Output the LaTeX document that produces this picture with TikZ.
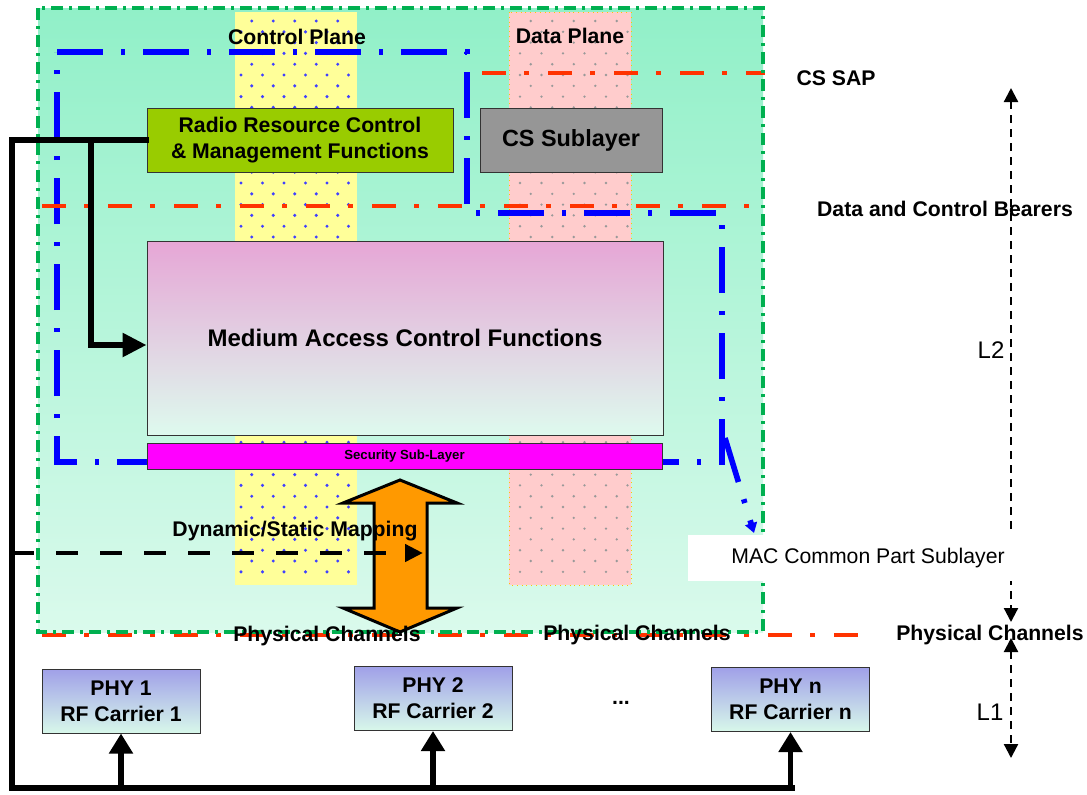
\documentclass[tikz,border=0pt]{standalone}
\usepackage{fontspec}
\setmainfont{Liberation Sans}
\usetikzlibrary{arrows.meta}
\newcommand{\lblfont}{\fontsize{10.6}{13}\selectfont\bfseries}
\newcommand{\plainfont}{\fontsize{10.6}{13}\selectfont}

\begin{document}
\begin{tikzpicture}[x=0.5pt, y=-0.5pt, line join=miter,
  lbl/.style={font=\lblfont, inner sep=0pt},
  box/.style={draw=black!80, line width=0.5pt, align=center, font=\lblfont, inner sep=0pt},
  phybox/.style={box, top color=phyTop, bottom color=phyBot, minimum width=79pt, minimum height=32pt},
  greendd/.style={draw=lineGreen, line width=1.6pt, dash pattern=on 6pt off 3pt on 1.5pt off 3pt},
  bluedd/.style={draw=lineBlue, line width=2.8pt, dash pattern=on 23pt off 9pt on 2pt off 9pt},
  reddd/.style={draw=lineRed, line width=2.4pt, dash pattern=on 12pt off 9pt on 2.5pt off 9.5pt},
  ctrlline/.style={line width=2.8pt, line cap=rect},
  layerarr/.style={line width=1.1pt, dash pattern=on 4pt off 3pt, {Triangle[length=7pt,width=7pt]}-{Triangle[length=7pt,width=7pt]}}]

  \useasboundingbox (0,0) rectangle (1087,794);

  % Colors
  \definecolor{areaTop}{RGB}{145,240,200}
  \definecolor{areaBot}{RGB}{218,250,236}
  \definecolor{ctrlYellow}{RGB}{255,255,153}
  \definecolor{dataPink}{RGB}{255,204,204}
  \definecolor{rrcGreen}{RGB}{153,204,0}
  \definecolor{csGrey}{RGB}{150,150,150}
  \definecolor{macTop}{RGB}{230,166,214}
  \definecolor{macMid}{RGB}{205,218,212}
  \definecolor{macBot}{RGB}{222,250,238}
  \definecolor{secMagenta}{RGB}{255,0,255}
  \definecolor{phyTop}{RGB}{160,160,232}
  \definecolor{phyBot}{RGB}{216,248,234}
  \definecolor{arrOrange}{RGB}{255,153,0}
  \definecolor{lineBlue}{RGB}{0,0,255}
  \definecolor{lineRed}{RGB}{255,51,0}
  \definecolor{lineGreen}{RGB}{0,176,80}
  \colorlet{dotBlue}{lineBlue!75}
  \colorlet{dotGrey}{black!40}

  % L2 area
  \shade[top color=areaTop, bottom color=areaBot] (38,8) rectangle (763,632);

  % Control and data plane columns (dotted)
  \fill[ctrlYellow] (235,12) rectangle (357,585);
  \fill[dataPink] (509,12) rectangle (631,585);
  \draw[yellow!60!orange, dotted, line width=0.4pt] (509,12) rectangle (631,585);
  \foreach \r in {0,...,51} {
    \pgfmathtruncatemacro\odd{1-mod(\r,2)}
    \pgfmathtruncatemacro\nd{5-\odd}
    \foreach \c in {0,...,\nd} {
      \fill[dotBlue] ({241+10.75*\odd+21.5*\c},{21+10.8*\r}) circle (0.85pt);
      \fill[dotGrey] ({520+10.75*\odd+21.5*\c},{21+10.8*\r}) circle (0.65pt);
    }
  }
  \node[lbl] (cplane) at (297,37) {Control Plane};
  \node[lbl] (dplane) at (570,36) {Data Plane};

  % Blue boundary of the MAC sublayers
  \draw[bluedd] (57,52) -- (467,52) -- (467,213) -- (722,213) -- (722,462) -- (57,462) -- cycle;
  \coordinate (mcpsFrom) at (725,438);
  \coordinate (mcpsTo)   at (754,533);
  \draw[bluedd, -{Triangle[length=5pt,width=6pt]}] (mcpsFrom) -- (mcpsTo);

  % SAP lines
  \draw[reddd] (482,73) -- (765,73);
  \draw[reddd] (42,206) -- (750,206);
  \draw[reddd] (42,635) -- (860,635);

  % Green border
  \draw[greendd] (38,8) rectangle (763,632);

  % Functional blocks
  \node[box, fill=rrcGreen, minimum width=153pt, minimum height=32pt] (rrc) at (300,140)
    {Radio Resource Control\\\& Management Functions};
  \node[box, fill=csGrey, minimum width=91pt, minimum height=32pt,
    font=\fontsize{11.7}{14}\selectfont\bfseries] (cs) at (571,140) {CS Sublayer};
  \node[box, top color=macTop, middle color=macMid, bottom color=macBot, minimum width=258pt, minimum height=97pt,
    font=\fontsize{12}{14}\selectfont\bfseries] (mac) at (405,338) {Medium Access Control Functions};
  \node[box, fill=secMagenta, minimum width=257.5pt, minimum height=13pt,
    font=\fontsize{6.6}{8}\selectfont\bfseries] (sec) at (404.5,456) {Security Sub-Layer};

  % Mapping arrow
  \draw[fill=arrOrange, line width=1.5pt] (400,480) -- (457,503) -- (427,503) -- (427,608) -- (457,608)
    -- (400,632) -- (343,608) -- (374,608) -- (374,503) -- (343,503) -- cycle;
  \coordinate (mapFrom) at (12,553);
  \coordinate (mapTo)   at (423,553);
  \draw[line width=2.2pt, dash pattern=on 11pt off 11pt, -{Triangle[length=9pt,width=8.5pt]}] (mapFrom) -- (mapTo);
  \node[lbl] (dsm) at (295,531) {Dynamic/Static Mapping};

  % Channel labels
  \node[lbl] (pch1) at (327,636) {Physical Channels};
  \node[lbl] (pch2) at (637,635) {Physical Channels};
  \node[lbl] (pch3) at (990,635) {Physical Channels};
  \node[lbl] (cssap) at (836,78) {CS SAP};
  \node[lbl] (bearers) at (945,209) {Data and Control Bearers};

  % PHY blocks
  \node[phybox] (phy1) at (121,701) {PHY 1\\RF Carrier 1};
  \node[phybox] (phy2) at (433,698.5) {PHY 2\\RF Carrier 2};
  \node[phybox] (phyn) at (790.5,699.5) {PHY n\\RF Carrier n};
  \node[lbl] (more) at (621,703) {...};

  % Control path
  \coordinate (busL) at (12,788);
  \coordinate (busR) at (792,788);
  \coordinate (tap)  at (91,140);
  \draw[ctrlline] (rrc.west) -| (busL) -- (busR);
  \draw[ctrlline, -{Triangle[length=12pt,width=11.5pt]}] (tap) |- ([yshift=-3.5pt]mac.west);
  \foreach \p in {phy1,phy2,phyn}
    \draw[ctrlline, -{Triangle[length=10pt,width=11.5pt]}] (\p.south |- busL) -- (\p.south);

  % Layer extents
  \coordinate (l2top) at (1011,88);
  \coordinate (l2bot) at (1011,622);
  \coordinate (l1top) at (1011,638);
  \coordinate (l1bot) at (1011,758);
  \draw[layerarr] (l2top) -- (l2bot);
  \draw[layerarr] (l1top) -- (l1bot);
  \node[font=\fontsize{12}{14}\selectfont] (l2) at (991,350) {L2};
  \node[font=\fontsize{12}{14}\selectfont] (l1) at (990,712) {L1};
  \node[fill=white, font=\plainfont, minimum width=180pt, minimum height=23pt] (mcps) at (868,558)
    {MAC Common Part Sublayer};

\end{tikzpicture}
\end{document}
